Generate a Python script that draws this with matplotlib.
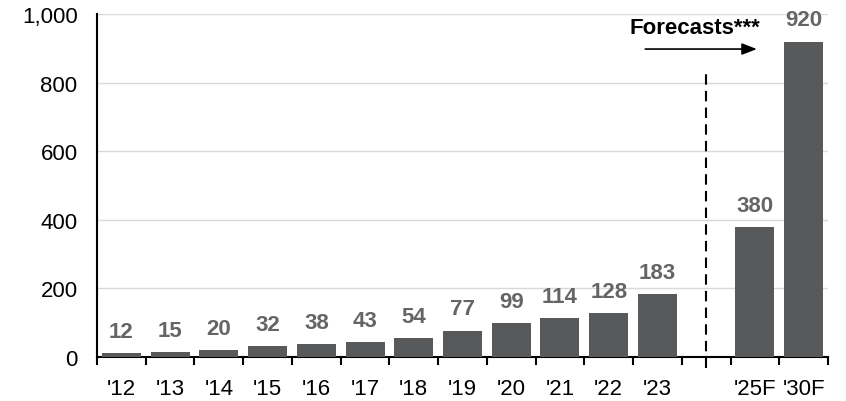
import matplotlib.pyplot as plt
import numpy as np

plt.rcParams['font.family'] = ['Liberation Sans', 'DejaVu Sans']

# chart values
years = ["'12", "'13", "'14", "'15", "'16", "'17", "'18", "'19", "'20", "'21", "'22", "'23"]
forecast_years = ["'25F", "'30F"]
values = [12, 15, 20, 32, 38, 43, 54, 77, 99, 114, 128, 183]
forecast_values = [380, 920]

bar_color = "#57595b"
label_color = "#636567"

# one empty slot between history and forecasts
x_hist = np.arange(len(years))
x_fc = np.arange(len(forecast_years)) + len(years) + 1
n_slots = len(years) + 1 + len(forecast_years)

fig = plt.figure(figsize=(8.46, 4.02), dpi=100)
ax = fig.add_axes([0.1147, 0.1095, 0.864, 0.853])

all_x = np.concatenate([x_hist, x_fc])
all_v = values + forecast_values
ax.bar(all_x, all_v, width=0.8, color=bar_color, zorder=3)

for x, v in zip(all_x, all_v):
    ax.annotate(str(v), (x, v), xytext=(0, 8), textcoords="offset points",
                ha="center", va="bottom", fontsize=16, fontweight="bold",
                color=label_color)

ax.set_xlim(-0.5, n_slots - 0.5)
ax.set_ylim(0, 1000)
ax.set_yticks(np.arange(0, 1001, 200))
ax.set_yticklabels(["0", "200", "400", "600", "800", "1,000"])
ax.yaxis.grid(True, color="#d9d9d9", linewidth=1, zorder=0)
ax.tick_params(axis="y", length=0, labelsize=16, pad=14)

ax.set_xticks(all_x)
ax.set_xticklabels(years + forecast_years)
ax.set_xticks(np.arange(-0.5, n_slots, 1), minor=True)
ax.tick_params(axis="x", which="major", length=0, labelsize=16, pad=15)
ax.tick_params(axis="x", which="minor", length=6, width=1.5, direction="out")

for s in ["top", "right"]:
    ax.spines[s].set_visible(False)
ax.spines["left"].set_linewidth(1.5)
ax.spines["bottom"].set_linewidth(1.5)

# forecast divider and arrow
x_div = len(years)
ax.plot([x_div, x_div], [-32, 840], linestyle=(0, (5, 3)), color="black",
        linewidth=1.5, clip_on=False, zorder=4)
ax.annotate("", xy=(13.04, 898), xytext=(10.75, 898),
            arrowprops=dict(arrowstyle="-|>,head_length=0.9,head_width=0.35",
                            color="black", lw=1.2, shrinkA=0, shrinkB=0))
ax.text(11.77, 960, "Forecasts***", ha="center", va="center",
        fontsize=16, fontweight="bold")

fig.savefig("out.png", dpi=100)
